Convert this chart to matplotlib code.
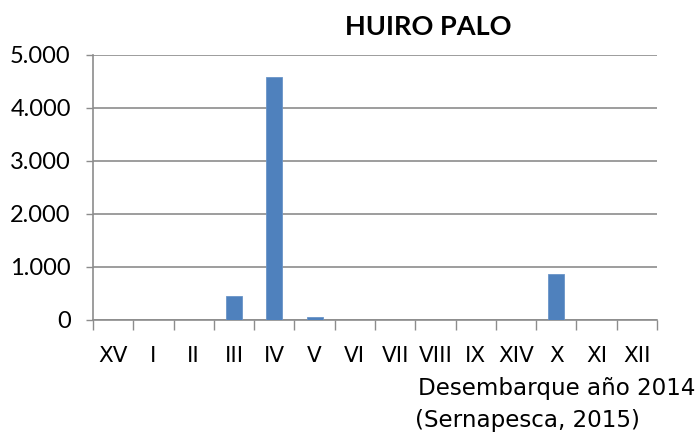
import matplotlib
matplotlib.use("Agg")
import matplotlib.pyplot as plt
from matplotlib.ticker import FuncFormatter, FixedLocator
import numpy as np

# regiones y desembarque (toneladas)
regiones = ["XV", "I", "II", "III", "IV", "V", "VI", "VII", "VIII", "IX", "XIV", "X", "XI", "XII"]
desembarque = [0, 0, 0, 450, 4590, 50, 0, 0, 0, 0, 0, 860, 0, 0]
y_ticks = [0, 1000, 2000, 3000, 4000, 5000]

plt.rcParams['font.family'] = ['Lato', 'DejaVu Sans']

fig = plt.figure(figsize=(6.98, 4.33), dpi=100)
ax = fig.add_axes([0.1332, 0.261, 0.8081, 0.612])

x = np.arange(len(regiones))
ax.bar(x, desembarque, width=0.4, color='#4f81bd', edgecolor='#6a94c8', linewidth=0.6, zorder=3)

ax.set_xlim(-0.5, len(regiones) - 0.5)
ax.set_ylim(0, 5000)
ax.set_yticks(y_ticks)
ax.yaxis.set_major_formatter(FuncFormatter(lambda v, p: f"{int(v):,}".replace(",", ".")))
ax.grid(axis='y', color='#8c8c8c', linewidth=1.2, zorder=0)

ax.set_xticks(x)
ax.set_xticklabels(regiones, family='DejaVu Sans')
ax.xaxis.set_minor_locator(FixedLocator(np.arange(-0.5, len(regiones), 1.0)))
ax.tick_params(axis='x', which='major', length=0, pad=19, labelsize=15.5)
ax.tick_params(axis='x', which='minor', length=7, width=1, color='#8c8c8c', direction='out')
ax.tick_params(axis='y', length=5, width=1, color='#8c8c8c', labelsize=17, pad=11)

for s in ['top', 'right']:
    ax.spines[s].set_visible(False)
for s in ['left', 'bottom']:
    ax.spines[s].set_color('#8c8c8c')
    ax.spines[s].set_linewidth(1.2)

fig.text(0.613, 0.938, "HUIRO PALO", ha='center', va='center', fontsize=19.5, fontweight='bold')
fig.text(0.996, 0.102, "Desembarque año 2014", ha='right', va='center', fontsize=16.6, family='DejaVu Sans')
fig.text(0.594, 0.03, "(Sernapesca, 2015)", ha='left', va='center', fontsize=16.6, family='DejaVu Sans')

fig.savefig("out.png", dpi=100)
